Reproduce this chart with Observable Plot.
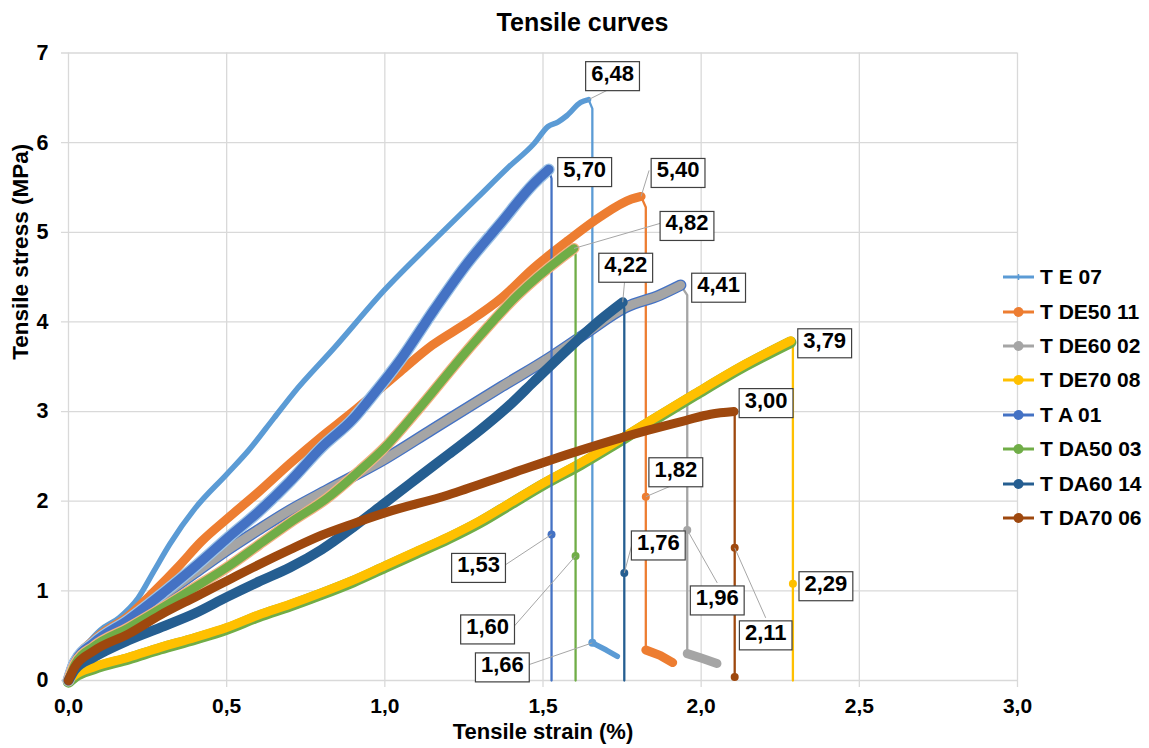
<!DOCTYPE html>
<html>
<head>
<meta charset="utf-8">
<script src="https://cdn.jsdelivr.net/npm/d3@7"></script>
<script src="https://cdn.jsdelivr.net/npm/@observablehq/plot@0.6"></script>
<style>
  html, body { margin: 0; padding: 0; background: #fff; }
  body { width: 1149px; height: 748px; overflow: hidden; font-family: "Liberation Sans", Arial, sans-serif; }
  #wrap { position: relative; width: 1149px; height: 748px; }
  #title { height: 44px; line-height: 44px; font-size: 25px; font-weight: bold; color: #000; text-align: center; padding-left: 16px; box-sizing: border-box; width: 1149px; }
  #legend { position: absolute; left: 1003px; top: 260px; }
  .li { height: 34.4px; display: flex; align-items: center; font-size: 21px; font-weight: bold; color: #000; white-space: nowrap; }
  .li svg { margin-right: 6px; }
</style>
</head>
<body>
<div id="wrap">
  <div id="title">Tensile curves</div>
  <div id="chart"></div>
  <div id="legend"></div>
</div>
<script>
// ---------- data ----------
const seriesNames = ["T E 07", "T DE50 11", "T DE60 02", "T DE70 08", "T A 01", "T DA50 03", "T DA60 14", "T DA70 06"];
const seriesColors = ["#5B9BD5", "#ED7D31", "#A5A5A5", "#FFC000", "#4472C4", "#70AD47", "#255E91", "#9E480E"];

const xTicks = [0, 0.5, 1, 1.5, 2, 2.5, 3];
const yTicks = [0, 1, 2, 3, 4, 5, 6, 7];

// loading part (strain %, stress MPa)
const curveTE07 = [[0,0],[0.01,0.2],[0.05,0.37],[0.1,0.56],[0.16,0.7],[0.22,0.92],[0.27,1.22],[0.32,1.52],[0.4,1.92],[0.5,2.3],[0.57,2.57],[0.65,2.93],[0.71,3.2],[0.84,3.71],[1.0,4.36],[1.155,4.91],[1.294,5.39],[1.389,5.72],[1.472,5.99],[1.516,6.18],[1.547,6.23],[1.575,6.3],[1.619,6.45],[1.644,6.48]];
const breakTE07 = [[1.644,6.48],[1.656,6.38],[1.656,0.42],[1.7,0.34],[1.735,0.27]];
const tailTE07 = [[1.656,0.42],[1.7,0.34],[1.735,0.27]];

const curveDE50 = [[0,0],[0.02,0.2],[0.08,0.45],[0.19,0.72],[0.27,0.99],[0.35,1.28],[0.42,1.55],[0.5,1.8],[0.6,2.1],[0.7,2.42],[0.8,2.72],[0.9,3.0],[0.95,3.15],[1.05,3.45],[1.15,3.74],[1.26,3.99],[1.37,4.27],[1.47,4.6],[1.58,4.91],[1.68,5.17],[1.78,5.37],[1.81,5.4]];
const breakDE50 = [[1.81,5.4],[1.825,5.28],[1.825,2.05],[1.825,0.34],[1.87,0.28],[1.91,0.2]];
const tailDE50 = [[1.825,0.34],[1.87,0.28],[1.91,0.2]];

const curveDE60 = [[0,0],[0.02,0.2],[0.1,0.45],[0.2,0.7],[0.3,0.95],[0.4,1.2],[0.5,1.45],[0.6,1.68],[0.7,1.9],[0.82,2.13],[1.0,2.47],[1.15,2.8],[1.37,3.28],[1.52,3.6],[1.63,3.86],[1.76,4.16],[1.87,4.3],[1.935,4.41]];
const breakDE60 = [[1.935,4.41],[1.956,4.3],[1.956,1.68],[1.956,0.3],[2.0,0.25],[2.05,0.19]];
const tailDE60 = [[1.956,0.3],[2.0,0.25],[2.05,0.19]];

const curveDE70 = [[0,0],[0.02,0.06],[0.08,0.15],[0.19,0.26],[0.29,0.37],[0.4,0.48],[0.5,0.59],[0.6,0.73],[0.7,0.85],[0.8,0.98],[0.9,1.12],[1.0,1.28],[1.1,1.44],[1.2,1.6],[1.3,1.78],[1.4,1.99],[1.5,2.2],[1.62,2.43],[1.72,2.64],[1.83,2.88],[1.98,3.2],[2.14,3.53],[2.283,3.79]];
const breakDE70 = [[2.283,3.79],[2.29,3.74],[2.29,1.08],[2.29,0]];

const curveA01 = [[0,0],[0.02,0.2],[0.08,0.42],[0.19,0.68],[0.3,0.98],[0.4,1.27],[0.5,1.58],[0.6,1.88],[0.7,2.22],[0.8,2.6],[0.9,2.92],[0.95,3.13],[1.05,3.58],[1.155,4.13],[1.26,4.65],[1.366,5.1],[1.47,5.54],[1.518,5.7]];
const breakA01 = [[1.518,5.7],[1.527,5.6],[1.527,1.63],[1.527,0]];

const curveDA50 = [[0,0],[0.02,0.18],[0.08,0.38],[0.19,0.59],[0.3,0.82],[0.4,1.04],[0.5,1.26],[0.6,1.51],[0.7,1.76],[0.82,2.04],[0.92,2.34],[1.0,2.6],[1.1,3.0],[1.26,3.68],[1.42,4.3],[1.56,4.72],[1.598,4.82]];
const breakDA50 = [[1.598,4.82],[1.603,4.75],[1.603,1.39],[1.603,0]];

const curveDA60 = [[0,0],[0.02,0.12],[0.08,0.26],[0.19,0.45],[0.29,0.59],[0.4,0.75],[0.5,0.93],[0.6,1.1],[0.7,1.26],[0.8,1.46],[0.9,1.71],[1.0,1.98],[1.1,2.25],[1.2,2.52],[1.3,2.79],[1.4,3.09],[1.47,3.33],[1.58,3.7],[1.68,4.02],[1.752,4.22]];
const breakDA60 = [[1.752,4.22],[1.757,4.15],[1.757,1.2],[1.757,0]];

const curveDA70 = [[0,0],[0.02,0.15],[0.08,0.33],[0.19,0.52],[0.29,0.73],[0.4,0.93],[0.5,1.11],[0.6,1.29],[0.7,1.46],[0.8,1.62],[0.9,1.75],[1.0,1.87],[1.2,2.07],[1.4,2.31],[1.62,2.57],[1.83,2.79],[1.95,2.9],[2.03,2.97],[2.104,3.0]];
const breakDA70 = [[2.104,3.0],[2.106,2.98],[2.106,1.48],[2.106,0.04]];

// data labels: value text, attached point (strain, stress)
const labelText   = ["6,48","5,70","5,40","4,82","4,22","4,41","3,79","3,00","1,53","1,60","1,66","1,76","1,82","1,96","2,11","2,29"];
const labelStrain = [1.644,1.518,1.81,1.598,1.752,1.935,2.283,2.104,1.527,1.603,1.656,1.757,1.825,1.956,2.106,2.29];
const labelStress = [6.48,5.70,5.40,4.82,4.22,4.41,3.79,3.00,1.63,1.39,0.42,1.2,2.05,1.68,1.48,1.08];
const labelSeries = [0,4,1,5,6,2,3,7,4,5,0,6,1,2,7,3];
// break points shown with markers
const markIdx = [8,9,10,11,12,13,14,15];

// ---------- layout (pixels) ----------
const W = 1149, H = 704, mL = 68, mR = 132, mT = 8.5, mB = 68;
const boxOff = [[24,-26],[36,0],[37,-26],[113,-25],[3,-37],[38,0],[34,0],[32,-11],[-73,31],[-88,71],[-90,22],[34,-30],[30,-27],[30,68],[31,85],[33,0]];
const leadOff = [[22,-11],null,[8,-26],[86,-25],[2,-22],null,null,null,[-47,31],[-62,71],[-64,22],[8,-30],[28,-12],[30,53],[31,70],null];

const xs = d3.scaleLinear([0, 3], [mL, W - mR]);
const ys = d3.scaleLinear([0, 7], [H - mB, mT]);

const curves = [curveTE07, curveDE50, curveDE60, curveDE70, curveA01, curveDA50, curveDA60, curveDA70];
const breaks = [breakTE07, breakDE50, breakDE60, breakDE70, breakA01, breakDA50, breakDA60, breakDA70];
const tails = [tailTE07, tailDE50, tailDE60, null, null, null, null, null];
const widths = [5.5, 9, 9, 9, 9.5, 8.5, 10, 9];
const halos = [null, null, "#4472C4", "#70AD47", "#9DC3E6", "#F4B183", null, null];

const fmt1 = d => d.toFixed(1).replace(".", ",");

const marks = [
  Plot.ruleY(yTicks, {y: d => d, stroke: "#d9d9d9", strokeWidth: 1.3, insetLeft: -7}),
  Plot.ruleX(xTicks, {x: d => d, stroke: "#d9d9d9", strokeWidth: 1.3, insetBottom: -7}),
  Plot.axisX(xTicks, {tickSize: 0, tickPadding: 18, tickFormat: fmt1, fontSize: 21, fontWeight: "bold", fill: "#000", label: null}),
  Plot.axisY(yTicks, {tickSize: 0, tickPadding: 20, tickFormat: d => String(d), fontSize: 21.5, fontWeight: "bold", fill: "#000", label: null}),
  Plot.text(["Tensile strain (%)"], {frameAnchor: "bottom", dy: 58, fontSize: 22, fontWeight: "bold", fill: "#000"}),
  Plot.text(["Tensile stress (MPa)"], {frameAnchor: "left", rotate: -90, dx: -48, dy: -7, fontSize: 22.5, fontWeight: "bold", fill: "#000"})
];

seriesNames.forEach((name, i) => {
  const col = seriesColors[i];
  marks.push(Plot.line(breaks[i], {x: d => d[0], y: d => d[1], stroke: col, strokeWidth: 2.3}));
  if (halos[i]) {
    const dy = (i === 3) ? 1.5 : 0;
    marks.push(Plot.line(curves[i], {x: d => d[0], y: d => d[1], stroke: halos[i], strokeWidth: widths[i] + 2.5, strokeLinecap: "round", strokeLinejoin: "round", curve: "monotone-x", dy}));
  }
  marks.push(Plot.line(curves[i], {x: d => d[0], y: d => d[1], stroke: col, strokeWidth: widths[i], strokeLinecap: "round", strokeLinejoin: "round", curve: "monotone-x"}));
  if (tails[i]) {
    marks.push(Plot.line(tails[i], {x: d => d[0], y: d => d[1], stroke: col, strokeWidth: widths[i], strokeLinecap: "round", strokeLinejoin: "round"}));
  }
});

// break-point markers
marks.push(Plot.dot(markIdx, {x: i => labelStrain[i], y: i => labelStress[i], r: 4, fill: i => seriesColors[labelSeries[i]], stroke: "none"}));
marks.push(Plot.dot([breakDA70[breakDA70.length - 1]], {x: d => d[0], y: d => d[1], r: 4, fill: seriesColors[7]}));

// leader lines
const leadIdx = labelText.map((_, i) => i).filter(i => leadOff[i]);
marks.push(Plot.link(leadIdx, {
  x1: i => labelStrain[i], y1: i => labelStress[i],
  x2: i => xs.invert(xs(labelStrain[i]) + leadOff[i][0]),
  y2: i => ys.invert(ys(labelStress[i]) + leadOff[i][1]),
  stroke: "#a6a6a6", strokeWidth: 1
}));

// labels
marks.push(Plot.text(labelText.map((_, i) => i), {
  x: i => xs.invert(xs(labelStrain[i]) + boxOff[i][0]),
  y: i => ys.invert(ys(labelStress[i]) + boxOff[i][1]),
  text: i => labelText[i],
  fontSize: 22, fontWeight: "bold", fill: "#000", textAnchor: "middle", lineAnchor: "middle"
}));

const chart = Plot.plot({
  width: W, height: H,
  marginLeft: mL, marginRight: mR, marginTop: mT, marginBottom: mB,
  x: {domain: [0, 3]},
  y: {domain: [0, 7]},
  style: {fontFamily: '"Liberation Sans", Arial, sans-serif', background: "transparent", overflow: "visible"},
  marks
});
document.getElementById("chart").appendChild(chart);

// boxes behind data labels
chart.querySelectorAll('g[aria-label="text"] text').forEach(t => {
  if (!/^\d,\d\d$/.test(t.textContent)) return;
  const b = t.getBBox();
  const r = document.createElementNS("http://www.w3.org/2000/svg", "rect");
  r.setAttribute("x", b.x - 5.5);
  r.setAttribute("y", b.y + 1);
  r.setAttribute("width", b.width + 11);
  r.setAttribute("height", b.height + 4);
  r.setAttribute("fill", "#fff");
  r.setAttribute("stroke", "#404040");
  r.setAttribute("stroke-width", "1.2");
  if (t.getAttribute("transform")) r.setAttribute("transform", t.getAttribute("transform"));
  t.parentNode.insertBefore(r, t);
});

// legend
const leg = document.getElementById("legend");
seriesNames.forEach((name, i) => {
  const d = document.createElement("div");
  d.className = "li";
  const marker = i === 0
    ? `<line x1="15.5" x2="15.5" y1="6" y2="12" stroke="${seriesColors[i]}" stroke-width="1.5"/>`
    : `<circle cx="15.5" cy="9" r="5" fill="${seriesColors[i]}"/>`;
  d.innerHTML = `<svg width="31" height="18"><line x1="0" x2="31" y1="9" y2="9" stroke="${seriesColors[i]}" stroke-width="3"/>${marker}</svg><span>${name}</span>`;
  leg.appendChild(d);
});
</script>
</body>
</html>
